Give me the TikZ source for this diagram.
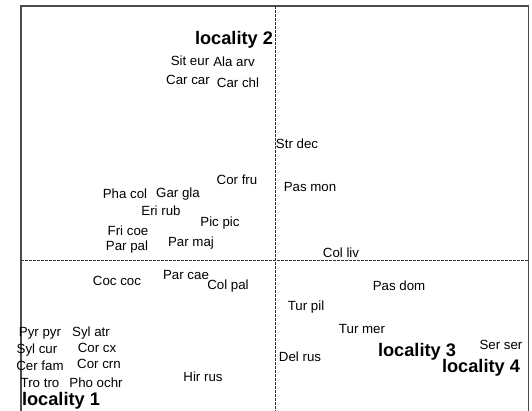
\documentclass[tikz,border=0pt]{standalone}
\usepackage{fontspec}
\setmainfont{Liberation Sans}
\begin{document}
\begin{tikzpicture}[x=1pt,y=-1pt,
  sp/.style={inner sep=0pt,anchor=center,font=\fontsize{13.3}{14}\selectfont},
  loc/.style={inner sep=0pt,anchor=center,font=\fontsize{18.2}{20}\selectfont\bfseries},
  frame/.style={draw=black!70,line width=1.1pt},
  axis/.style={draw=black!80,line width=0.7pt,dash pattern=on 3pt off 1pt}]
\useasboundingbox (0,0) rectangle (532,411);
\begin{scope}
\clip (0,0) rectangle (532,411);
\coordinate (tl) at (21,6);
\coordinate (tr) at (528.5,6);
\coordinate (bl) at (21,420);
\coordinate (br) at (528.5,420);
\draw[frame] (bl) -- (tl) -- (tr) -- (br);
\coordinate (vt) at (275.7,6);
\coordinate (vb) at (275.7,420);
\coordinate (hl) at (21,260.7);
\coordinate (hr) at (528.5,260.7);
\draw[axis] (vt) -- (vb);
\draw[axis] (hl) -- (hr);
\end{scope}
\node[loc] (l2) at (234,40) {locality 2};
\node[sp] (siteur) at (190,61) {Sit eur};
\node[sp] (alaarv) at (234,62) {Ala arv};
\node[sp] (carcar) at (188,80) {Car car};
\node[sp] (carchl) at (238,83) {Car chl};
\node[sp] (strdec) at (297,144) {Str dec};
\node[sp] (corfru) at (237,180) {Cor fru};
\node[sp] (pasmon) at (310,187) {Pas mon};
\node[sp] (phacol) at (125,194) {Pha col};
\node[sp] (gargla) at (178,194) {Gar gla};
\node[sp] (erirub) at (161,211) {Eri rub};
\node[sp] (picpic) at (220,223) {Pic pic};
\node[sp] (fricoe) at (128,231) {Fri coe};
\node[sp] (parmaj) at (191,243) {Par maj};
\node[sp] (parpal) at (127,247) {Par pal};
\node[sp] (colliv) at (341,253) {Col liv};
\node[sp] (parcae) at (186,275) {Par cae};
\node[sp] (coccoc) at (117,281) {Coc coc};
\node[sp] (colpal) at (228,286) {Col pal};
\node[sp] (pasdom) at (399,286) {Pas dom};
\node[sp] (turpil) at (306,307) {Tur pil};
\node[sp] (turmer) at (362,329) {Tur mer};
\node[sp] (pyrpyr) at (40,333) {Pyr pyr};
\node[sp] (sylatr) at (91,333) {Syl atr};
\node[sp] (corcx) at (97,348) {Cor cx};
\node[sp] (sylcur) at (37,350) {Syl cur};
\node[sp] (corcrn) at (99,364) {Cor crn};
\node[sp] (cerfam) at (40,366) {Cer fam};
\node[sp] (hirrus) at (203,377) {Hir rus};
\node[sp] (trotro) at (40,383) {Tro tro};
\node[sp] (phoochr) at (96,383) {Pho ochr};
\node[sp] (serser) at (501,345) {Ser ser};
\node[sp] (delrus) at (300,357) {Del rus};
\node[loc] (l3) at (417,352) {locality 3};
\node[loc] (l4) at (481,368) {locality 4};
\node[loc] (l1) at (61,401) {locality 1};
\end{tikzpicture}
\end{document}
